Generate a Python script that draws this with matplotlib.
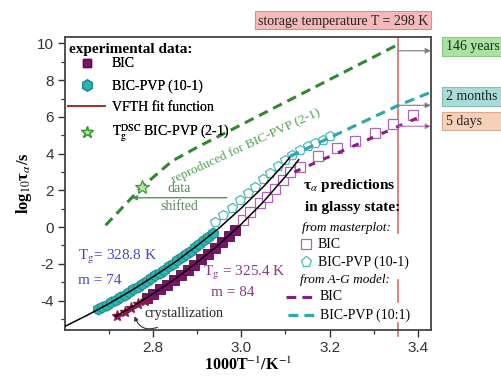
import matplotlib
matplotlib.use("Agg")
import matplotlib.pyplot as plt
from matplotlib.lines import Line2D
from matplotlib.patches import Rectangle

plt.rcParams["font.family"] = ["Liberation Serif", "DejaVu Serif"]
plt.rcParams["mathtext.fontset"] = "stix"
plt.rcParams["axes.unicode_minus"] = False

# ---------------- data ----------------
# BIC-PVP (10-1) experimental relaxation times (filled hexagons)
pvp_x = [2.675, 2.685, 2.695, 2.705, 2.715, 2.725, 2.735, 2.745, 2.755, 2.765,
         2.775, 2.785, 2.795, 2.805, 2.815, 2.825, 2.835, 2.845, 2.855, 2.865,
         2.875, 2.885, 2.895, 2.905, 2.915, 2.925, 2.935]
pvp_y = [-4.48, -4.35, -4.22, -4.09, -3.95, -3.81, -3.67, -3.53, -3.39, -3.24,
         -3.09, -2.94, -2.79, -2.63, -2.47, -2.31, -2.14, -1.98, -1.81, -1.63,
         -1.46, -1.28, -1.10, -0.91, -0.72, -0.53, -0.33]

# BIC experimental relaxation times (filled squares)
bic_x = [2.785, 2.800, 2.816, 2.831, 2.847, 2.862, 2.878, 2.893, 2.909, 2.924,
         2.940, 2.955, 2.971, 2.986]
bic_y = [-3.86, -3.63, -3.38, -3.13, -2.87, -2.61, -2.32, -2.05, -1.75, -1.46,
         -1.14, -0.83, -0.49, -0.15]

# BIC points lost to crystallization (stars)
cryst_x = [2.718, 2.735, 2.750, 2.766, 2.781]
cryst_y = [-4.85, -4.62, -4.42, -4.20, -4.00]

# VFTH fit curves
vfth_pvp_x = [2.60, 2.65, 2.70, 2.75, 2.80, 2.85, 2.90, 2.95, 3.00, 3.05, 3.10, 3.115]
vfth_pvp_y = [-5.40, -4.80, -4.16, -3.46, -2.70, -1.90, -1.00, -0.04, 1.04, 2.20, 3.51, 3.95]
vfth_bic_x = [2.715, 2.75, 2.80, 2.85, 2.90, 2.95, 3.00, 3.05, 3.10, 3.13]
vfth_bic_y = [-4.85, -4.37, -3.62, -2.82, -1.91, -0.93, 0.17, 1.38, 2.76, 3.67]

# masterplot predictions, BIC (open squares)
mp_bic_x = [3.004, 3.019, 3.042, 3.058, 3.076, 3.094, 3.110, 3.133,
            3.174, 3.216, 3.257, 3.302, 3.344, 3.389]
mp_bic_y = [0.38, 0.80, 1.30, 1.63, 2.10, 2.55, 2.99, 3.30,
            3.86, 4.30, 4.70, 5.15, 5.60, 6.09]

# masterplot predictions, BIC-PVP (10-1) (open pentagons)
mp_pvp_x = [2.940, 2.958, 2.978, 2.997, 3.015, 3.032, 3.050, 3.066, 3.082,
            3.098, 3.114, 3.132, 3.150, 3.168, 3.186, 3.200]
mp_pvp_y = [0.27, 0.68, 1.05, 1.45, 1.85, 2.20, 2.60, 2.95, 3.35,
            3.65, 3.95, 4.20, 4.40, 4.60, 4.75, 4.95]

# A-G model predictions
ag_bic_x = [3.12, 3.356, 3.40]
ag_bic_y = [3.00, 5.49, 5.95]
ag_pvp_x = [3.11, 3.356, 3.425]
ag_pvp_y = [3.85, 6.63, 7.30]

# BIC-PVP (2-1) curve reproduced from the shifted data
shift_x = [2.692, 2.775, 2.843, 2.900, 3.356]
shift_y = [0.10, 2.20, 3.60, 4.35, 9.95]
dsc_x = [2.775]
dsc_y = [2.20]

storage_T = 298.0
storage_x = 1000.0 / storage_T
storage_levels = [9.60, 6.63, 5.49]
storage_labels = ["146 years", "2 months", "5 days"]

# ---------------- colours ----------------
c_pvp = "#2BB5B2"
c_pvp_edge = "#1C8A88"
c_bic = "#7A1469"
c_cryst = "#8E1650"
c_open_sq = "#B065B5"
c_open_pent = "#4DB8C0"
c_green = "#2F8A2F"
c_ag_bic = "#8A1E87"
c_ag_pvp = "#2AA7A7"
c_red = "#E06A6A"

fig = plt.figure(figsize=(5.02, 3.78), dpi=100)
ax = fig.add_axes([65 / 502, 1 - 330 / 378, 366 / 502, 293 / 378])
ax.set_xlim(2.60, 3.43)
ax.set_ylim(-5.6, 10.35)

# storage temperature line (broken where legend text sits)
for y0, y1 in [(10.35, -0.3), (-2.9, -4.1), (-5.2, -5.9)]:
    ax.plot([storage_x, storage_x], [y0, y1], color=c_red, lw=1.2,
            clip_on=False, zorder=1)

# experimental data
ax.plot(pvp_x, pvp_y, ls="none", marker="h", ms=8, mfc=c_pvp, mec=c_pvp_edge,
        mew=0.7, zorder=3)
ax.plot(bic_x, bic_y, ls="none", marker="s", ms=6.5, mfc=c_bic, mec="#5A0A4A",
        mew=0.6, zorder=3)
ax.plot(cryst_x, cryst_y, ls="none", marker="*", ms=8, color=c_cryst, zorder=3)

# masterplot predictions
ax.plot(mp_pvp_x, mp_pvp_y, ls="none", marker="p", ms=7.5, mfc="white",
        mec=c_open_pent, mew=0.9, zorder=3)
ax.plot(mp_bic_x, mp_bic_y, ls="none", marker="s", ms=6.5, mfc="white",
        mec=c_open_sq, mew=0.9, zorder=3)

# VFTH fits
ax.plot(vfth_pvp_x, vfth_pvp_y, color="black", lw=1.1, zorder=4)
ax.plot(vfth_bic_x, vfth_bic_y, color="black", lw=1.1, zorder=4)

# A-G model
ax.plot(ag_pvp_x, ag_pvp_y, color=c_ag_pvp, lw=2.2, dashes=(3.2, 2.0), zorder=5)
ax.plot(ag_bic_x, ag_bic_y, color=c_ag_bic, lw=2.2, dashes=(2.2, 3.0), zorder=5)

# reproduced BIC-PVP (2-1)
ax.plot(shift_x, shift_y, color=c_green, lw=2.2, dashes=(3.2, 2.0), zorder=5)
ax.plot(dsc_x, dsc_y, ls="none", marker="*", ms=10, mfc="#B8E6A0", mec="#3A9A3A",
        mew=0.9, zorder=6)

# storage-time arrows
arrow_cols = [("#8A8A8A", "#2F8A2F"), ("#8A8A8A", "#3A6A6A"), ("#C080C0", "#7A1469")]
for lev, (lc, hc) in zip(storage_levels, arrow_cols):
    ax.annotate("", xy=(3.43, lev), xytext=(storage_x, lev),
                arrowprops=dict(arrowstyle="-|>", ec=lc, fc=hc, lw=0.9,
                                mutation_scale=8, shrinkA=0, shrinkB=0),
                annotation_clip=False, zorder=6)

# axis formatting
ax.set_xticks([2.8, 3.0, 3.2, 3.4])
ax.set_xticks([2.7, 2.9, 3.1, 3.3], minor=True)
ax.set_yticks([-4, -2, 0, 2, 4, 6, 8, 10])
ax.set_yticks([-5, -3, -1, 1, 3, 5, 7, 9], minor=True)
ax.tick_params(which="major", direction="out", length=5, width=1.0, pad=3,
               labelsize=11, colors="#333333", top=False, right=False)
ax.tick_params(which="minor", direction="out", length=3, width=0.9,
               colors="#333333", top=False, right=False)
for lab in ax.get_xticklabels() + ax.get_yticklabels():
    lab.set_fontfamily("Liberation Sans")
for sp in ax.spines.values():
    sp.set_linewidth(1.3)
    sp.set_color("#444444")

ax.set_xlabel(r"1000T$^{-1}$/K$^{-1}$", fontsize=11.5, fontweight="bold", labelpad=1)
ax.set_ylabel(r"log$_{10}$τ$_{α}$/s", fontsize=12, fontweight="bold", labelpad=2)


def axp(px, py):
    """Pixel position inside the figure -> axes fraction."""
    return ((px - 65) / 366, (330 - py) / 293)


tr = ax.transAxes

# legend for experimental data
ax.text(*axp(69, 49), "experimental data:", transform=tr, fontsize=11,
        fontweight="bold", va="center", ha="left")
handles = [
    Line2D([], [], ls="none", marker="s", ms=6, mfc=c_bic, mec="#5A0A4A"),
    Line2D([], [], ls="none", marker="h", ms=8, mfc=c_pvp, mec=c_pvp_edge),
    Line2D([], [], color="#A83030", lw=1.3),
    Line2D([], [], ls="none", marker="*", ms=9, mfc="#B8E6A0", mec="#3A9A3A"),
]
labels = ["BIC", "BIC-PVP (10-1)", "VFTH fit function",
          r"T$_\mathrm{g}^\mathrm{DSC}$ BIC-PVP (2-1)"]
leg = ax.legend(handles, labels, loc="upper left", bbox_to_anchor=axp(65, 54),
                frameon=False, fontsize=10,
                handlelength=2.6, handletextpad=0.5, labelspacing=0.62,
                borderpad=0.25, borderaxespad=0)
ax.add_artist(leg)

# prediction legend, drawn by hand in axes coordinates
ax.text(*axp(303, 186), r"τ$_{α}$ predictions", transform=tr, fontsize=11,
        fontweight="bold", va="center", ha="left")
ax.text(*axp(305, 207), "in glassy state:", transform=tr, fontsize=11,
        fontweight="bold", va="center", ha="left")
ax.text(*axp(302, 228), "from masterplot:", transform=tr, fontsize=9.5,
        style="italic", va="center", ha="left")
ax.plot(*axp(306, 244), transform=tr, marker="s", ms=6.5, mfc="white",
        mec=c_open_sq, mew=0.9, clip_on=False)
ax.text(*axp(318, 244), "BIC", transform=tr, fontsize=10, va="center", ha="left")
ax.plot(*axp(306, 262), transform=tr, marker="p", ms=8, mfc="white",
        mec=c_open_pent, mew=0.9, clip_on=False)
ax.text(*axp(318, 262), "BIC-PVP (10-1)", transform=tr, fontsize=10,
        va="center", ha="left")
ax.text(*axp(300, 280), "from A-G model:", transform=tr, fontsize=9.5,
        style="italic", va="center", ha="left")
xa, ya = axp(286, 297)
xb, _ = axp(314, 297)
ax.plot([xa, xb], [ya, ya], transform=tr, color=c_ag_bic, lw=2.2,
        dashes=(3.2, 2.0), clip_on=False)
ax.text(*axp(320, 297), "BIC", transform=tr, fontsize=10, va="center", ha="left")
xa, ya = axp(288, 315)
xb, _ = axp(316, 315)
ax.plot([xa, xb], [ya, ya], transform=tr, color=c_ag_pvp, lw=2.2,
        dashes=(3.2, 2.0), clip_on=False)
ax.text(*axp(320, 315), "BIC-PVP (10:1)", transform=tr, fontsize=10,
        va="center", ha="left")

# annotations inside the plot
ax.text(3.010, 4.40, "reproduced for BIC-PVP (2-1)", fontsize=9.5,
        color="#4DA64D", rotation=25, ha="center", va="center",
        rotation_mode="anchor")
ax.annotate("", xy=(2.752, 1.6), xytext=(2.967, 1.6),
            arrowprops=dict(arrowstyle="-|>", color="#4A9A4A", lw=1.0,
                            mutation_scale=7, shrinkA=0, shrinkB=0))
ax.text(2.86, 2.12, "data", fontsize=10, color="#5A8A5A", ha="center", va="center")
ax.text(2.86, 1.12, "shifted", fontsize=10, color="#5A8A5A", ha="center", va="center")

ax.text(2.630, -1.65, r"T$_\mathrm{g}$= 328.8 K", fontsize=11, color="#4646C8",
        ha="left", va="center")
ax.text(2.630, -2.90, "m = 74", fontsize=11, color="#4646C8", ha="left", va="center")
ax.text(2.914, -2.50, r"T$_\mathrm{g}$ = 325.4 K", fontsize=11, color="#8B3A8B",
        ha="left", va="center")
ax.text(2.930, -3.55, "m = 84", fontsize=11, color="#8B3A8B", ha="left", va="center")

ax.text(2.780, -4.70, "crystallization", fontsize=10, color="#222222",
        ha="left", va="center")
ax.annotate("", xy=(2.758, -4.85), xytext=(2.81, -5.45),
            arrowprops=dict(arrowstyle="-|>", color="#333333", lw=0.8,
                            mutation_scale=6, shrinkA=0, shrinkB=0,
                            connectionstyle="arc3,rad=-0.5"))


# boxes outside the axes
def fig_box(x0, y0, x1, y1, fc, ec):
    fig.patches.append(Rectangle((x0 / 502, 1 - y1 / 378), (x1 - x0) / 502,
                                 (y1 - y0) / 378, transform=fig.transFigure,
                                 fc=fc, ec=ec, lw=0.8, zorder=0))


fig_box(255, 11, 431, 29, "#F6B9B9", "#E08A8A")
fig.text(343 / 502, 1 - 21 / 378, f"storage temperature T = {storage_T:.0f} K",
         fontsize=10, ha="center", va="center", color="#222222")

box_rows = [(37, 56, "#A8E4A0", "#86C980"), (87, 106, "#A9DCD6", "#80BFB8"),
            (112, 130, "#F7D0B8", "#E0A890")]
for (y0, y1, fc, ec), lab in zip(box_rows, storage_labels):
    fig_box(442, y0, 512, y1, fc, ec)
    fig.text(446 / 502, 1 - (y0 + y1) / 2 / 378, lab, fontsize=10,
             ha="left", va="center", color="#222222")

fig.savefig("out.png", dpi=100)
